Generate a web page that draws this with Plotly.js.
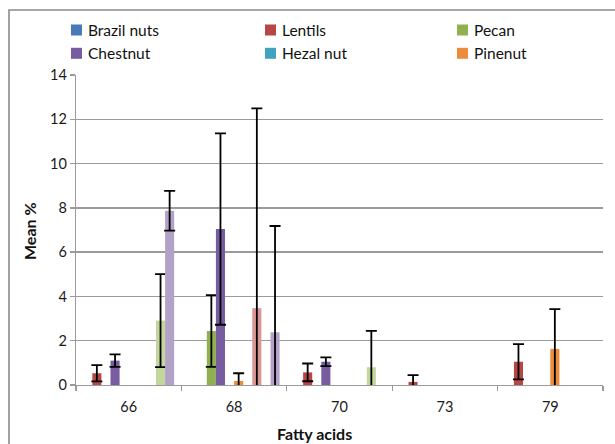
<!DOCTYPE html>
<html>
<head>
<meta charset="utf-8">
<script src="https://cdn.plot.ly/plotly-3.0.1.min.js"></script>
<style>
  html, body { margin: 0; padding: 0; background: #fff; }
  #chart { width: 615px; height: 444px; }
</style>
</head>
<body>
<div id="chart"></div>
<script>
// ---- Data ----
var categories = ['66', '68', '70', '73', '79'];

var seriesNames = ['Brazil nuts', 'Lentils', 'Pecan', 'Chestnut', 'Hezal nut', 'Pinenut',
                   'Series 7', 'Series 8', 'Series 9', 'Series 10'];

var brazilNuts     = [null, null, null, null, null];
var brazilNutsErr  = [0, 0, 0, 0, 0];
var lentils        = [0.53, null, 0.57, 0.14, 1.05];
var lentilsErr     = [0.37, 0, 0.40, 0.31, 0.80];
var pecan          = [null, 2.44, null, null, null];
var pecanErr       = [0, 1.62, 0, 0, 0];
var chestnut       = [1.10, 7.04, 1.05, null, null];
var chestnutErr    = [0.28, 4.32, 0.20, 0, 0];
var hezalNut       = [null, null, null, null, null];
var hezalNutErr    = [0, 0, 0, 0, 0];
var pinenut        = [null, 0.18, null, null, 1.63];
var pinenutErr     = [0, 0.35, 0, 0, 1.80];
var series7        = [null, null, null, null, null];
var series7Err     = [0, 0, 0, 0, 0];
var series8        = [null, 3.47, null, null, null];
var series8Err     = [0, 9.02, 0, 0, 0];
var series9        = [2.91, null, 0.80, null, null];
var series9Err     = [2.10, 0, 1.64, 0, 0];
var series10       = [7.87, 2.38, null, null, null];
var series10Err    = [0.90, 4.80, 0, 0, 0];

var yTickVals = [0, 2, 4, 6, 8, 10, 12, 14];

// ---- Styles ----
var colors = ['#4A7AB5', '#B54744', '#91B050', '#775C9F', '#43A3BE', '#EE8C3E',
              '#95B3D7', '#D99694', '#C3D69B', '#B3A2C7'];
var values = [brazilNuts, lentils, pecan, chestnut, hezalNut, pinenut,
              series7, series8, series9, series10];
var errors = [brazilNutsErr, lentilsErr, pecanErr, chestnutErr, hezalNutErr, pinenutErr,
              series7Err, series8Err, series9Err, series10Err];

var FONT = 'Lato, "Open Sans", sans-serif';

var traces = values.map(function (v, i) {
  return {
    type: 'bar',
    name: seriesNames[i],
    x: categories,
    y: v,
    marker: { color: colors[i], line: { width: 0 } },
    error_y: { type: 'data', array: errors[i], visible: true,
               color: '#000', thickness: 1.8, width: 5.5 },
    showlegend: false,
    hoverinfo: 'x+y+name'
  };
});

// pixel -> paper helpers (plot area: x 76..603, y 75..385)
var L = 76, R = 12, T = 75, B = 59, W = 615, H = 444;
var pw = W - L - R, ph = H - T - B;
function px(x) { return (x - L) / pw; }
function py(y) { return (H - B - y) / ph; }

// Manual legend (first six series, as in the reference)
var shapes = [];
var annotations = [];
var legCols = [71, 265, 457];
var legRows = [30, 53.3];
for (var k = 0; k < 6; k++) {
  var cx = legCols[k % 3], cy = legRows[Math.floor(k / 3)];
  shapes.push({ type: 'rect', xref: 'paper', yref: 'paper',
    x0: px(cx), x1: px(cx + 11), y0: py(cy + 5.5), y1: py(cy - 5.5),
    fillcolor: colors[k], line: { width: 0 } });
  annotations.push({ xref: 'paper', yref: 'paper', x: px(cx + 15), y: py(cy),
    xanchor: 'left', yanchor: 'middle', showarrow: false, text: seriesNames[k],
    font: { family: FONT, size: 15.5, color: '#111' } });
}
// chart-area border
shapes.push({ type: 'rect', xref: 'paper', yref: 'paper', layer: 'above',
  x0: px(9), x1: px(640), y0: py(470), y1: py(10),
  line: { color: '#8a8a8a', width: 1.6 }, fillcolor: 'rgba(0,0,0,0)' });

// axis titles
annotations.push({ xref: 'paper', yref: 'paper', x: px(314), y: py(434),
  xanchor: 'center', yanchor: 'middle', showarrow: false, text: '<b>Fatty acids</b>',
  font: { family: FONT, size: 16, color: '#111' } });
annotations.push({ xref: 'paper', yref: 'paper', x: px(30), y: py(231),
  xanchor: 'center', yanchor: 'middle', showarrow: false, text: '<b>Mean %</b>',
  textangle: -90, font: { family: FONT, size: 16, color: '#111' } });

var layout = {
  width: W, height: H,
  margin: { l: L, r: R, t: T, b: B, pad: 0 },
  paper_bgcolor: '#fff', plot_bgcolor: '#fff',
  barmode: 'group', bargap: 0.137, bargroupgap: 0,
  showlegend: false,
  font: { family: FONT, size: 14, color: '#222' },
  xaxis: {
    type: 'category',
    showline: true, linecolor: '#9a9a9a', linewidth: 1.3,
    ticks: 'outside', tickson: 'boundaries', ticklen: 5, tickcolor: '#9a9a9a', tickwidth: 1.3,
    ticklabelstandoff: 8,
    showgrid: false, zeroline: false,
    tickfont: { family: FONT, size: 14.5, color: '#1a1a1a' }
  },
  yaxis: {
    range: [0, 14], tickvals: yTickVals, ticktext: yTickVals.map(String),
    showline: true, linecolor: '#9a9a9a', linewidth: 1.3,
    ticks: 'outside', ticklen: 5, tickcolor: '#9a9a9a', tickwidth: 1.3,
    showgrid: true, gridcolor: '#9a9a9a', gridwidth: 1.3,
    zeroline: false,
    tickfont: { family: FONT, size: 14.5, color: '#1a1a1a' }
  },
  shapes: shapes,
  annotations: annotations
};

Plotly.newPlot('chart', traces, layout, { displayModeBar: false, staticPlot: true });
</script>
</body>
</html>
